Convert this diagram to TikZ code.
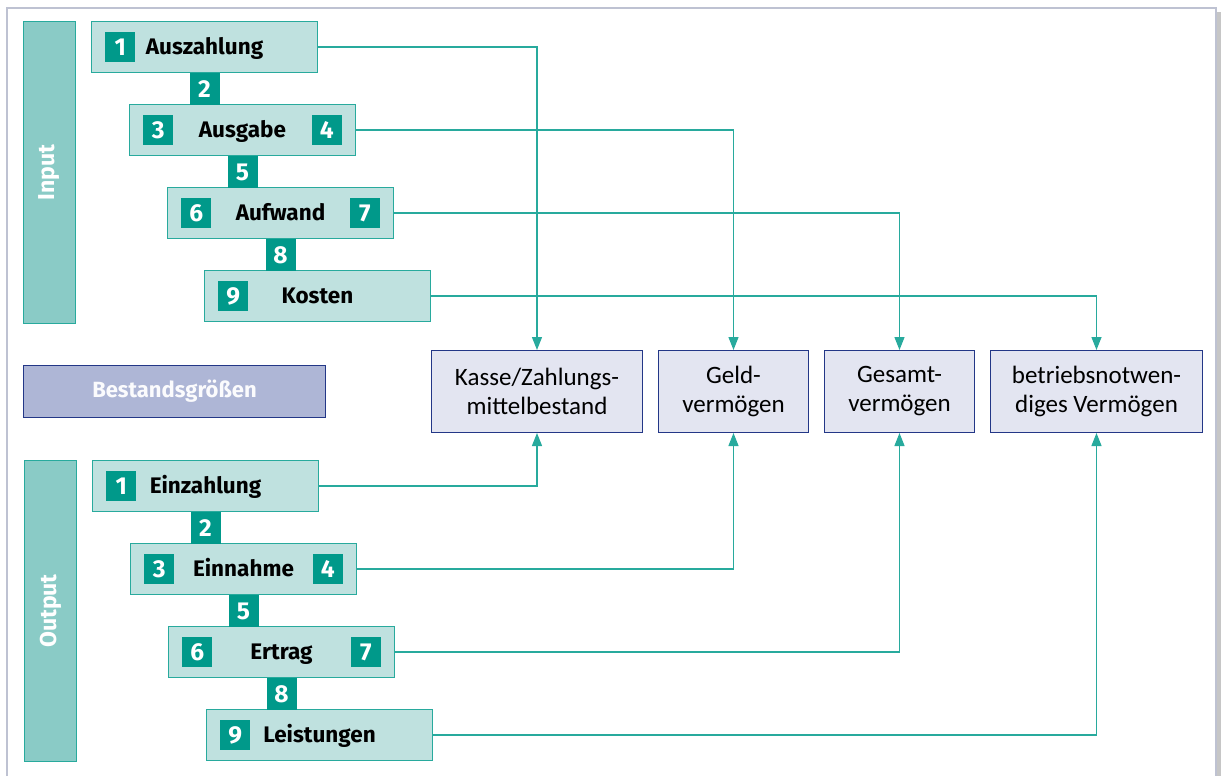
\documentclass[tikz,border=0pt]{standalone}
\usepackage{fontspec}
\setmainfont{Fira Sans}
\newfontfamily\boxfont{Carlito}
\usetikzlibrary{arrows.meta,positioning}

\definecolor{tealdark}{RGB}{0,153,138}
\definecolor{tealline}{RGB}{40,170,157}
\definecolor{tealfill}{RGB}{191,225,223}
\definecolor{tealbar}{RGB}{138,203,198}
\definecolor{navyline}{RGB}{35,55,135}
\definecolor{lavbar}{RGB}{174,182,214}
\definecolor{lavfill}{RGB}{227,229,241}
\definecolor{framegray}{RGB}{190,194,210}

\tikzset{
  flowbox/.style={draw=tealline, fill=tealfill, line width=1pt, minimum width=226pt,
    minimum height=51pt, anchor=north west, inner sep=0pt,
    text height=15.5pt, text depth=0pt,
    font=\bfseries\fontsize{22.5}{24}\selectfont},
  badge/.style={fill=tealdark, text=white, minimum size=30pt, inner sep=0pt,
    font=\bfseries\fontsize{24.5}{26}\selectfont},
  sidebar/.style={draw=tealline, fill=tealbar, line width=1pt, minimum width=52pt,
    anchor=north west, inner sep=0pt},
  barlabel/.style={rotate=90, text=white, font=\bfseries\fontsize{23}{24}\selectfont},
  stockbox/.style={draw=navyline, fill=lavfill, line width=1pt, minimum height=82pt,
    anchor=north west, align=center, inner sep=0pt,
    font=\boxfont\fontsize{25}{29}\selectfont},
  link/.style={draw=tealline, line width=1.3pt, -{Triangle[width=10pt,length=13pt]}}
}

\begin{document}
\begin{tikzpicture}[x=1pt,y=-1pt]
  \useasboundingbox (0,0) rectangle (1222,776);

  % frame with shadow
  \fill[gray!45] (1217,12) rectangle (1221,776);
  \draw[framegray, line width=1.5pt] (7,776) -- (7,8) -- (1216,8) -- (1216,776);

  % side bars
  \node[sidebar, minimum height=302pt] (input) at (23,21) {};
  \node[barlabel] at (input.center) {Input};
  \node[sidebar, minimum height=301pt] (output) at (24,460) {};
  \node[barlabel] at (output.center) {Output};

  \node[draw=navyline, fill=lavbar, line width=1pt, minimum width=302pt, minimum height=52pt,
    anchor=north west, text=white!95!lavbar, font=\bfseries\fontsize{22}{24}\selectfont]
    (bestand) at (23,365) {Bestandsgrößen};

  % input chain
  \node[flowbox] (auszahl) at (91,21) {Auszahlung};
  \node[flowbox] (ausgabe) at (129,104) {Ausgabe};
  \node[flowbox] (aufwand) at (167,187) {Aufwand};
  \node[flowbox] (kosten) at (204,270) {Kosten};

  \node[badge, right=14pt of auszahl.west] (auszahl1) {1};
  \node[badge, minimum height=32pt, below=0pt of auszahl] (auszahl2) {2};
  \node[badge, right=14pt of ausgabe.west] (ausgabe3) {3};
  \node[badge, left=14pt of ausgabe.east] (ausgabe4) {4};
  \node[badge, minimum height=32pt, below=0pt of ausgabe] (ausgabe5) {5};
  \node[badge, right=14pt of aufwand.west] (aufwand6) {6};
  \node[badge, left=14pt of aufwand.east] (aufwand7) {7};
  \node[badge, minimum height=32pt, below=0pt of aufwand] (aufwand8) {8};
  \node[badge, right=14pt of kosten.west] (kosten9) {9};

  % output chain
  \node[flowbox] (einzahl) at (92,460) {Einzahlung};
  \node[flowbox] (einnahme) at (130,543) {Einnahme};
  \node[flowbox] (ertrag) at (168,626) {Ertrag};
  \node[flowbox] (leistung) at (206,709) {Leistungen};

  \node[badge, right=14pt of einzahl.west] (einzahl1) {1};
  \node[badge, minimum height=32pt, below=0pt of einzahl] (einzahl2) {2};
  \node[badge, right=14pt of einnahme.west] (einnahme3) {3};
  \node[badge, left=14pt of einnahme.east] (einnahme4) {4};
  \node[badge, minimum height=32pt, below=0pt of einnahme] (einnahme5) {5};
  \node[badge, right=14pt of ertrag.west] (ertrag6) {6};
  \node[badge, left=14pt of ertrag.east] (ertrag7) {7};
  \node[badge, minimum height=32pt, below=0pt of ertrag] (ertrag8) {8};
  \node[badge, right=14pt of leistung.west] (leistung9) {9};

  % stock boxes
  \node[stockbox, minimum width=211pt] (kasse) at (431,350) {Kasse/Zahlungs-\\mittelbestand};
  \node[stockbox, minimum width=150pt] (geld) at (658,350) {Geld-\\vermögen};
  \node[stockbox, minimum width=150pt] (gesamt) at (824,350) {Gesamt-\\vermögen};
  \node[stockbox, minimum width=212pt] (betrieb) at (990,350) {betriebsnotwen-\\diges Vermögen};

  % connectors
  \draw[link] (auszahl.east) -| (kasse.north);
  \draw[link] (ausgabe.east) -| (geld.north);
  \draw[link] (aufwand.east) -| (gesamt.north);
  \draw[link] (kosten.east) -| (betrieb.north);
  \draw[link] (einzahl.east) -| (kasse.south);
  \draw[link] (einnahme.east) -| (geld.south);
  \draw[link] (ertrag.east) -| (gesamt.south);
  \draw[link] (leistung.east) -| (betrieb.south);
\end{tikzpicture}
\end{document}
